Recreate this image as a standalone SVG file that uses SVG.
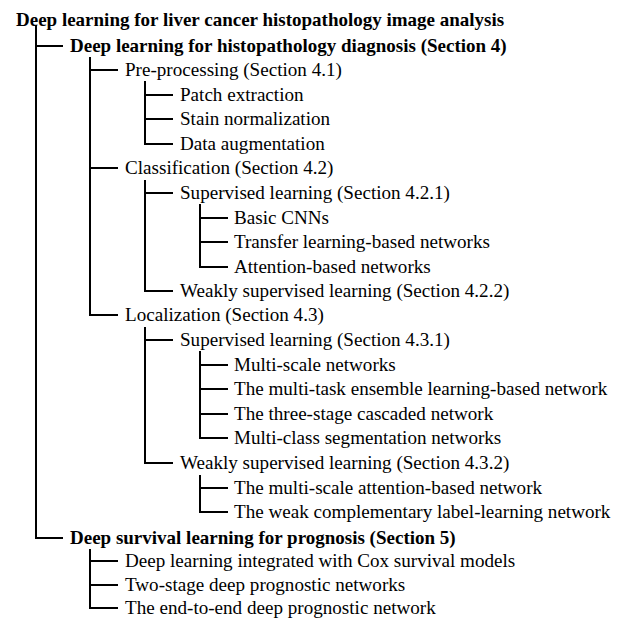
<svg xmlns="http://www.w3.org/2000/svg" width="627" height="619" viewBox="0 0 627 619">
  <style>
    text { font-family: "Liberation Serif", "Times New Roman", serif; font-size: 19.1px; fill: #000; }
    .b { font-weight: bold; font-size: 19px; }
    .tree line { stroke: #000; stroke-width: 2; stroke-linecap: square; }
  </style>
  <rect width="627" height="619" fill="#fff"/>

  <!-- connectors -->
  <g id="connectors" class="tree">
    <!-- root trunk -->
    <line x1="36" y1="26" x2="36" y2="538"/>
    <line x1="36" y1="46" x2="62" y2="46"/>
    <line x1="36" y1="538" x2="62" y2="538"/>
    <!-- section 4 trunk -->
    <line x1="90" y1="58" x2="90" y2="315"/>
    <line x1="90" y1="70" x2="117" y2="70"/>
    <line x1="90" y1="168" x2="117" y2="168"/>
    <line x1="90" y1="315" x2="117" y2="315"/>
    <!-- pre-processing -->
    <line x1="145" y1="82" x2="145" y2="144"/>
    <line x1="145" y1="95" x2="172" y2="95"/>
    <line x1="145" y1="119" x2="172" y2="119"/>
    <line x1="145" y1="144" x2="172" y2="144"/>
    <!-- classification -->
    <line x1="145" y1="181" x2="145" y2="291"/>
    <line x1="145" y1="193" x2="172" y2="193"/>
    <line x1="145" y1="291" x2="172" y2="291"/>
    <line x1="200" y1="205" x2="200" y2="267"/>
    <line x1="200" y1="218" x2="227" y2="218"/>
    <line x1="200" y1="242" x2="227" y2="242"/>
    <line x1="200" y1="267" x2="227" y2="267"/>
    <!-- localization -->
    <line x1="145" y1="328" x2="145" y2="463"/>
    <line x1="145" y1="340" x2="172" y2="340"/>
    <line x1="145" y1="463" x2="172" y2="463"/>
    <line x1="200" y1="352" x2="200" y2="438"/>
    <line x1="200" y1="365" x2="227" y2="365"/>
    <line x1="200" y1="389" x2="227" y2="389"/>
    <line x1="200" y1="414" x2="227" y2="414"/>
    <line x1="200" y1="438" x2="227" y2="438"/>
    <line x1="200" y1="476" x2="200" y2="512"/>
    <line x1="200" y1="488" x2="227" y2="488"/>
    <line x1="200" y1="512" x2="227" y2="512"/>
    <!-- section 5 trunk -->
    <line x1="90" y1="550" x2="90" y2="608"/>
    <line x1="90" y1="561" x2="117" y2="561"/>
    <line x1="90" y1="585" x2="117" y2="585"/>
    <line x1="90" y1="608" x2="117" y2="608"/>
  </g>

  <g id="root"><text class="b" x="16" y="26">Deep learning for liver cancer histopathology image analysis</text></g>

  <g id="sec4"><text class="b" x="70" y="51.5">Deep learning for histopathology diagnosis (Section 4)</text></g>
  <g id="preproc"><text x="125" y="75.5">Pre-processing (Section 4.1)</text></g>
  <g id="patch"><text x="180" y="100.5">Patch extraction</text></g>
  <g id="stain"><text x="180" y="124.5">Stain normalization</text></g>
  <g id="augment"><text x="180" y="149.5">Data augmentation</text></g>
  <g id="classif"><text x="125" y="173.5">Classification (Section 4.2)</text></g>
  <g id="cls-sup"><text x="180" y="198.5">Supervised learning (Section 4.2.1)</text></g>
  <g id="basic-cnn"><text x="234" y="223.5">Basic CNNs</text></g>
  <g id="transfer"><text x="234" y="247.5">Transfer learning-based networks</text></g>
  <g id="attention"><text x="234" y="272.5">Attention-based networks</text></g>
  <g id="cls-weak"><text x="180" y="296.5">Weakly supervised learning (Section 4.2.2)</text></g>
  <g id="localiz"><text x="125" y="320.5">Localization (Section 4.3)</text></g>
  <g id="loc-sup"><text x="180" y="345.5">Supervised learning (Section 4.3.1)</text></g>
  <g id="multiscale"><text x="234" y="370.5">Multi-scale networks</text></g>
  <g id="multitask"><text x="234" y="394.5">The multi-task ensemble learning-based network</text></g>
  <g id="cascade"><text x="234" y="419.5">The three-stage cascaded network</text></g>
  <g id="multiclass"><text x="234" y="443.5">Multi-class segmentation networks</text></g>
  <g id="loc-weak"><text x="180" y="468.5">Weakly supervised learning (Section 4.3.2)</text></g>
  <g id="ms-attention"><text x="234" y="493.5">The multi-scale attention-based network</text></g>
  <g id="complementary"><text x="234" y="517.5">The weak complementary label-learning network</text></g>

  <g id="sec5"><text class="b" x="70" y="543.5">Deep survival learning for prognosis (Section 5)</text></g>
  <g id="cox"><text x="125" y="566.5">Deep learning integrated with Cox survival models</text></g>
  <g id="two-stage"><text x="125" y="590.5">Two-stage deep prognostic networks</text></g>
  <g id="end-to-end"><text x="125" y="613.5">The end-to-end deep prognostic network</text></g>
</svg>
